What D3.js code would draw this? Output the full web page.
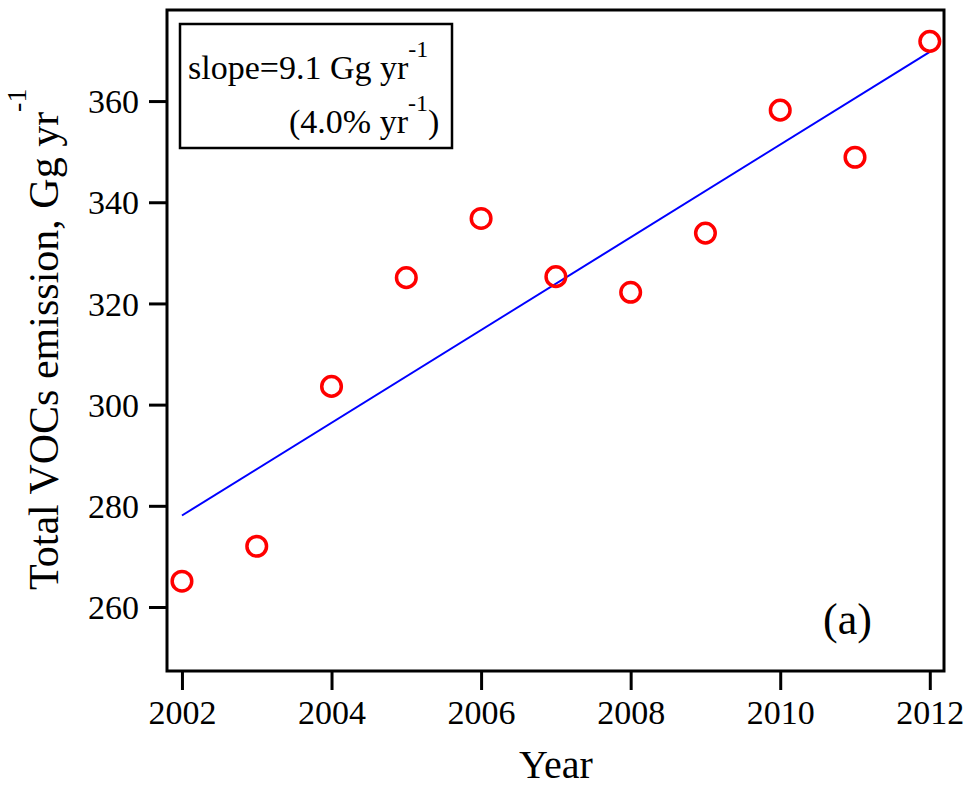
<!DOCTYPE html>
<html>
<head>
<meta charset="utf-8">
<script src="https://cdn.jsdelivr.net/npm/d3@7"></script>
<style>
  html, body { margin: 0; padding: 0; background: #fff; }
  text { font-family: "Liberation Serif", "Times New Roman", serif; fill: #000; }
</style>
</head>
<body>
<div id="chart"></div>
<script>
// data
var years = [2002, 2003, 2004, 2005, 2006, 2007, 2008, 2009, 2010, 2011, 2012];
var emissions = [265.1, 272.0, 303.6, 325.1, 336.8, 325.3, 322.2, 333.9, 358.2, 348.9, 371.8];
var xTicks = [2002, 2004, 2006, 2008, 2010, 2012];
var yTicks = [260, 280, 300, 320, 340, 360];
var slopeText = ['slope=9.1 Gg yr', '-1'];
var pctText = ['(4.0% yr', '-1', ')'];
var panelLabel = '(a)';

var attrs = {
  svgWidth: 969,
  svgHeight: 787,
  marginTop: 10,
  marginLeft: 167,
  marginRight: 25,
  marginBottom: 116
};

var calc = {};
calc.chartWidth = attrs.svgWidth - attrs.marginLeft - attrs.marginRight;
calc.chartHeight = attrs.svgHeight - attrs.marginTop - attrs.marginBottom;

// ############ scales ############
var scales = {};
scales.x = d3.scaleLinear().domain([2001.8, 2012.19]).range([0, calc.chartWidth]);
scales.y = d3.scaleLinear().domain([247.35, 378]).range([calc.chartHeight, 0]);

// least squares fit of the points
var mx = d3.mean(years), my = d3.mean(emissions);
var sxy = d3.sum(years, function (d, i) { return (d - mx) * (emissions[i] - my); });
var sxx = d3.sum(years, function (d) { return (d - mx) * (d - mx); });
var slope = sxy / sxx;
var fit = [years[0], years[years.length - 1]].map(function (x) {
  return { x: x, y: my + slope * (x - mx) };
});

var svg = d3.select('#chart').append('svg')
  .attr('width', attrs.svgWidth)
  .attr('height', attrs.svgHeight);

var chart = svg.append('g')
  .attr('transform', 'translate(' + attrs.marginLeft + ',' + attrs.marginTop + ')');

// ############ axes ############
var axes = {};
axes.bottom = d3.axisBottom(scales.x).tickValues(xTicks).tickFormat(d3.format('d'))
  .tickSize(19).tickPadding(10);
axes.left = d3.axisLeft(scales.y).tickValues(yTicks).tickSize(18).tickPadding(10);

var bottomAxis = chart.append('g')
  .attr('transform', 'translate(0,' + calc.chartHeight + ')')
  .call(axes.bottom);
var leftAxis = chart.append('g').call(axes.left);

[bottomAxis, leftAxis].forEach(function (ax) {
  ax.select('.domain').remove();
  ax.selectAll('line').attr('stroke', '#000').attr('stroke-width', 3);
  ax.selectAll('text')
    .style('font-family', '"Liberation Serif", "Times New Roman", serif')
    .style('font-size', '34px')
    .attr('fill', '#000');
});
bottomAxis.selectAll('text').attr('dy', '0.71em');
leftAxis.selectAll('text').attr('dy', '0.34em');

// frame
chart.append('rect')
  .attr('width', calc.chartWidth)
  .attr('height', calc.chartHeight)
  .attr('fill', 'none')
  .attr('stroke', '#000')
  .attr('stroke-width', 3);

// fit line
chart.append('path')
  .datum(fit)
  .attr('d', d3.line().x(function (d) { return scales.x(d.x); }).y(function (d) { return scales.y(d.y); }))
  .attr('fill', 'none')
  .attr('stroke', '#0000ff')
  .attr('stroke-width', 2);

// points
chart.selectAll('circle.pt')
  .data(years)
  .enter().append('circle')
  .attr('class', 'pt')
  .attr('cx', function (d) { return scales.x(d); })
  .attr('cy', function (d, i) { return scales.y(emissions[i]); })
  .attr('r', 9.8)
  .attr('fill', 'none')
  .attr('stroke', '#ff0000')
  .attr('stroke-width', 3.5);

// legend box
var legend = svg.append('g');
legend.append('rect')
  .attr('x', 180).attr('y', 24)
  .attr('width', 272).attr('height', 124)
  .attr('fill', '#fff')
  .attr('stroke', '#000')
  .attr('stroke-width', 2.5);

var l1 = legend.append('text').attr('x', 188).attr('y', 79).style('font-size', '34px');
l1.append('tspan').text(slopeText[0]);
l1.append('tspan').attr('dy', -22).style('font-size', '24px').text(slopeText[1]);

var l2 = legend.append('text').attr('x', 289).attr('y', 133).style('font-size', '34px');
l2.append('tspan').text(pctText[0]);
l2.append('tspan').attr('dy', -22).style('font-size', '24px').text(pctText[1]);
l2.append('tspan').attr('dy', 22).style('font-size', '34px').text(pctText[2]);

// panel label
svg.append('text')
  .attr('x', 823).attr('y', 634)
  .style('font-size', '44px')
  .text(panelLabel);

// axis titles
svg.append('text')
  .attr('x', attrs.marginLeft + scales.x(2007))
  .attr('y', 778)
  .attr('text-anchor', 'middle')
  .style('font-size', '40px')
  .text('Year');

var yl = svg.append('text')
  .attr('transform', 'translate(58,590) rotate(-90)')
  .style('font-size', '42px');
yl.append('tspan').text('Total VOCs emission, Gg yr');
yl.append('tspan').attr('dy', -32).style('font-size', '28px').text('-1');
</script>
</body>
</html>
